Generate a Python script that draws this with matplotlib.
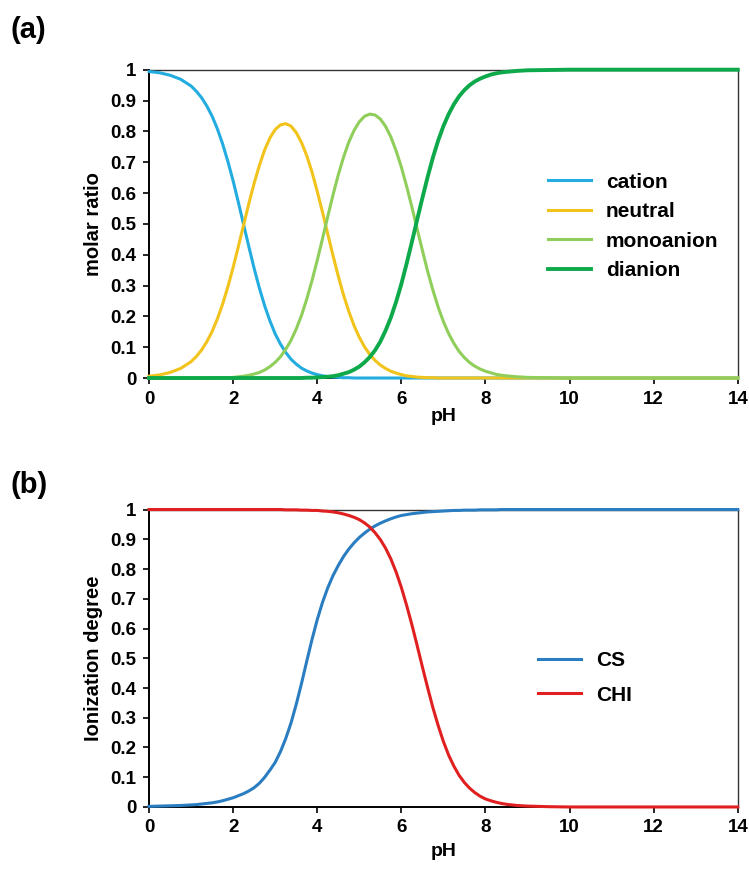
import matplotlib
matplotlib.use("Agg")
import matplotlib.pyplot as plt
from matplotlib.ticker import FuncFormatter, MultipleLocator

plt.rcParams["font.family"] = ["Liberation Sans", "DejaVu Sans"]
plt.rcParams["font.weight"] = "bold"

# pH grid used by both panels (finer where the curves bend)
ph = [0, 0.25, 0.5, 0.75,
      1.0, 1.125, 1.25, 1.375, 1.5, 1.625, 1.75, 1.875,
      2.0, 2.125, 2.25, 2.375, 2.5, 2.625, 2.75, 2.875,
      3.0, 3.125, 3.25, 3.375, 3.5, 3.625, 3.75, 3.875,
      4.0, 4.125, 4.25, 4.375, 4.5, 4.625, 4.75, 4.875,
      5.0, 5.125, 5.25, 5.375, 5.5, 5.625, 5.75, 5.875,
      6.0, 6.125, 6.25, 6.375, 6.5, 6.625, 6.75, 6.875,
      7.0, 7.125, 7.25, 7.375, 7.5, 7.625, 7.75, 7.875,
      8.0, 8.125, 8.25, 8.375, 8.5, 8.75, 9.0, 9.5, 10, 11, 12, 13, 14]

# panel (a): molar ratio of each species
cation = [0.994, 0.990, 0.982, 0.969,
          0.947, 0.930, 0.909, 0.882, 0.849, 0.808, 0.759, 0.702,
          0.639, 0.569, 0.497, 0.425, 0.355, 0.291, 0.234, 0.185,
          0.143, 0.110, 0.083, 0.061, 0.045, 0.032, 0.023, 0.016,
          0.011, 0.007, 0.005, 0.003, 0.002, 0.001, 0.001, 0,
          0, 0, 0, 0, 0, 0, 0, 0,
          0, 0, 0, 0, 0, 0, 0, 0,
          0, 0, 0, 0, 0, 0, 0, 0,
          0, 0, 0, 0, 0, 0, 0, 0, 0, 0, 0, 0, 0]
neutral = [0.006, 0.010, 0.018, 0.031,
           0.053, 0.070, 0.091, 0.118, 0.151, 0.192, 0.240, 0.296,
           0.359, 0.427, 0.497, 0.567, 0.632, 0.690, 0.740, 0.779,
           0.806, 0.821, 0.825, 0.817, 0.796, 0.764, 0.721, 0.668,
           0.605, 0.538, 0.467, 0.397, 0.330, 0.269, 0.216, 0.170,
           0.132, 0.101, 0.076, 0.057, 0.042, 0.031, 0.022, 0.016,
           0.011, 0.007, 0.005, 0.003, 0.002, 0.001, 0.001, 0,
           0, 0, 0, 0, 0, 0, 0, 0,
           0, 0, 0, 0, 0, 0, 0, 0, 0, 0, 0, 0, 0]
monoanion = [0, 0, 0, 0,
             0, 0, 0, 0, 0, 0.001, 0.001, 0.001,
             0.002, 0.004, 0.006, 0.009, 0.013, 0.018, 0.026, 0.037,
             0.051, 0.069, 0.093, 0.122, 0.159, 0.203, 0.256, 0.316,
             0.382, 0.452, 0.524, 0.594, 0.659, 0.716, 0.765, 0.803,
             0.831, 0.849, 0.856, 0.853, 0.840, 0.816, 0.782, 0.737,
             0.684, 0.622, 0.555, 0.484, 0.414, 0.346, 0.285, 0.230,
             0.183, 0.144, 0.112, 0.086, 0.066, 0.050, 0.038, 0.029,
             0.022, 0.017, 0.012, 0.009, 0.007, 0.004, 0.002, 0.001, 0, 0, 0, 0, 0]
dianion = [0, 0, 0, 0,
           0, 0, 0, 0, 0, 0, 0, 0,
           0, 0, 0, 0, 0, 0, 0, 0,
           0, 0, 0, 0, 0, 0, 0.001, 0.001,
           0.002, 0.003, 0.004, 0.006, 0.009, 0.014, 0.019, 0.027,
           0.037, 0.051, 0.068, 0.090, 0.118, 0.154, 0.196, 0.247,
           0.305, 0.371, 0.441, 0.513, 0.584, 0.652, 0.715, 0.770,
           0.817, 0.856, 0.888, 0.914, 0.934, 0.950, 0.962, 0.971,
           0.978, 0.984, 0.988, 0.991, 0.993, 0.996, 0.998, 0.999, 1, 1, 1, 1, 1]

# panel (b): ionization degree
cs = [0.002, 0.003, 0.004, 0.005,
      0.007, 0.008, 0.010, 0.012, 0.014, 0.017, 0.021, 0.026,
      0.031, 0.038, 0.045, 0.054, 0.065, 0.080, 0.100, 0.124,
      0.150, 0.186, 0.230, 0.282, 0.345, 0.415, 0.490, 0.563,
      0.630, 0.688, 0.737, 0.778, 0.812, 0.842, 0.867, 0.888,
      0.906, 0.921, 0.934, 0.945, 0.954, 0.962, 0.969, 0.975,
      0.980, 0.983, 0.986, 0.988, 0.990, 0.992, 0.993, 0.994,
      0.995, 0.996, 0.997, 0.997, 0.998, 0.998, 0.998, 0.999,
      0.999, 0.999, 0.999, 1, 1, 1, 1, 1, 1, 1, 1, 1, 1]
chi = [1, 1, 1, 1,
       1, 1, 1, 1, 1, 1, 1, 1,
       1, 1, 1, 1, 1, 1, 1, 1,
       1, 1, 0.999, 0.999, 0.999, 0.998, 0.998, 0.997,
       0.997, 0.995, 0.994, 0.992, 0.989, 0.985, 0.980, 0.974,
       0.966, 0.955, 0.941, 0.922, 0.899, 0.870, 0.834, 0.790,
       0.738, 0.678, 0.613, 0.543, 0.471, 0.401, 0.334, 0.274,
       0.220, 0.174, 0.137, 0.106, 0.082, 0.063, 0.048, 0.036,
       0.027, 0.021, 0.016, 0.012, 0.009, 0.005, 0.003, 0.001, 0, 0, 0, 0, 0]

xticks = [0, 2, 4, 6, 8, 10, 12, 14]

fig = plt.figure(figsize=(7.49, 8.71), dpi=100)
ax_a = fig.add_axes([0.199, 0.566, 0.786, 0.354])
ax_b = fig.add_axes([0.199, 0.0735, 0.786, 0.3415])


def style_axes(ax, ylabel, xpad):
    ax.set_xlim(0, 14)
    ax.set_ylim(0, 1)
    ax.set_xticks(xticks)
    ax.yaxis.set_major_locator(MultipleLocator(0.1))
    ax.yaxis.set_major_formatter(FuncFormatter(lambda v, p: f"{v:.1f}".rstrip("0").rstrip(".") if v else "0"))
    ax.tick_params(direction="out", length=4, width=1.2, labelsize=13.5, pad=5)
    for s in ["left", "bottom"]:
        ax.spines[s].set_linewidth(1.4)
        ax.spines[s].set_color("black")
    for s in ["top", "right"]:
        ax.spines[s].set_linewidth(1.0)
        ax.spines[s].set_color("#333333")
    ax.set_xlabel("pH", fontsize=14, fontweight="bold", labelpad=xpad)
    ax.set_ylabel(ylabel, fontsize=14.5, fontweight="bold", labelpad=5,
                  family=["Liberation Sans Narrow", "Liberation Sans"])


ax_a.plot(ph, cation, color="#22ACE0", lw=2.2, label="cation", clip_on=False, zorder=3)
ax_a.plot(ph, neutral, color="#F2C31B", lw=2.2, label="neutral", clip_on=False, zorder=3)
ax_a.plot(ph, monoanion, color="#8FCE5A", lw=2.2, label="monoanion", clip_on=False, zorder=3)
ax_a.plot(ph, dianion, color="#0DA94A", lw=2.8, label="dianion", clip_on=False, zorder=4)
style_axes(ax_a, "molar ratio", 0)
ax_a.legend(loc="center left", bbox_to_anchor=(0.677, 0.492), frameon=False,
            fontsize=15, handlelength=2.1, handletextpad=0.7, labelspacing=0.5,
            borderpad=0, borderaxespad=0)

ax_b.plot(ph, cs, color="#2A7DC0", lw=2.2, label="CS", clip_on=False, zorder=3)
ax_b.plot(ph, chi, color="#E02020", lw=2.2, label="CHI", clip_on=False, zorder=3)
style_axes(ax_b, "Ionization degree", 5)
ax_b.legend(loc="center left", bbox_to_anchor=(0.66, 0.434), frameon=False,
            fontsize=15, handlelength=2.1, handletextpad=0.7, labelspacing=0.75,
            borderpad=0, borderaxespad=0)

fig.text(0.014, 1 - 30 / 871, "(a)", fontsize=21, fontweight="bold", va="center")
fig.text(0.014, 1 - 485 / 871, "(b)", fontsize=21, fontweight="bold", va="center")

fig.savefig("out.png", dpi=100)
plt.close(fig)
